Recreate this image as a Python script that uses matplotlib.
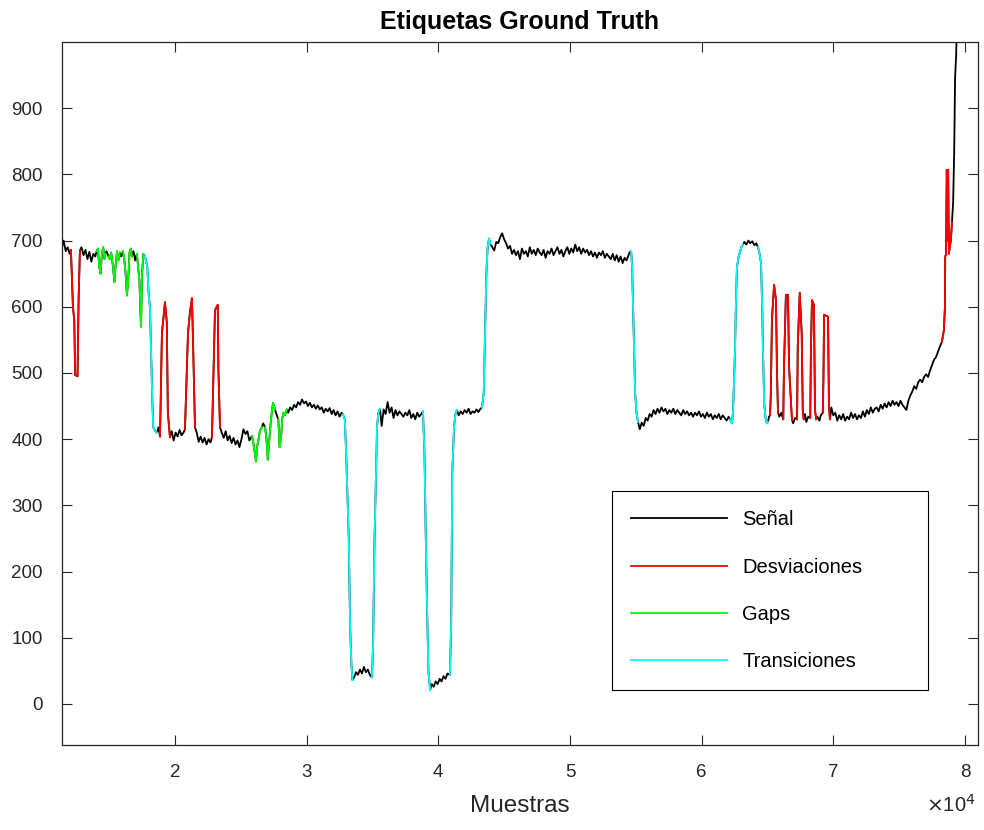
import numpy as np
import matplotlib.pyplot as plt

muestras = [
    11400, 11550, 11700, 11850, 12000, 12100,
    12250, 12350, 12420, 12600, 12680, 12780,
    12900, 13050, 13200, 13350, 13500, 13650, 13800, 13950, 14050,
    14150, 14250, 14350, 14450, 14550, 14650, 14700,
    14800, 14950,
    15050, 15150, 15300, 15400, 15480, 15600, 15700, 15820,
    15920, 16050,
    16150, 16250, 16350, 16450, 16550, 16650, 16730,
    16850, 16980, 17110,
    17200, 17300, 17420, 17500, 17600, 17720,
    17800, 17900, 18000, 18100, 18200, 18280, 18350, 18500, 18630,
    18750, 18860,
    18900, 19010, 19240, 19380, 19460, 19620,
    19750, 19900, 20050, 20200, 20350, 20500, 20650, 20760,
    20990, 21140, 21290, 21370, 21520,
    21650, 21800, 21950, 22100, 22250, 22400, 22550, 22700, 22810,
    22900, 23040, 23250, 23300, 23420,
    23550, 23700, 23850, 24000, 24150, 24300, 24450, 24600, 24750, 24900,
    25050, 25200, 25350, 25500, 25650, 25850,
    25950, 26050, 26150, 26250, 26350, 26450, 26600,
    26700, 26850,
    26950, 27050, 27150, 27250, 27350, 27450, 27600,
    27700, 27850,
    27950, 28050, 28150, 28250, 28350, 28500,
    28600, 28750, 28900, 29050, 29200, 29350, 29500, 29650, 29800, 29950,
    30100, 30250, 30400, 30550, 30700, 30850, 31000, 31150, 31300, 31450,
    31600, 31750, 31900, 32050, 32200, 32350, 32500, 32650, 32750,
    32900, 33000, 33100, 33200, 33300, 33400, 33480,
    33600, 33750, 33900, 34050, 34200, 34350, 34500, 34650, 34800, 34960,
    35050, 35150, 35250, 35350, 35450, 35570,
    35700, 35850, 36000, 36150, 36300, 36450, 36600, 36750, 36900, 37050,
    37200, 37350, 37500, 37650, 37800, 37950, 38100, 38250, 38400, 38550,
    38700, 38835,
    38950, 39050, 39150, 39250, 39380,
    39500, 39650, 39800, 39950, 40100, 40250, 40400, 40550, 40700, 40880,
    40980, 41060, 41200, 41300, 41420,
    41550, 41700, 41850, 42000, 42150, 42300, 42450, 42600, 42750, 42900,
    43050, 43200, 43320,
    43450, 43550, 43650, 43750, 43850, 43950,
    44100, 44250, 44400, 44550, 44700, 44850, 45000, 45150, 45300, 45450,
    45600, 45750, 45900, 46050, 46200, 46350, 46500, 46650, 46800, 46950,
    47100, 47250, 47400, 47550, 47700, 47850, 48000, 48150, 48300, 48450,
    48600, 48750, 48900, 49050, 49200, 49350, 49500, 49650, 49800, 49950,
    50100, 50250, 50400, 50550, 50700, 50850, 51000, 51150, 51300, 51450,
    51600, 51750, 51900, 52050, 52200, 52350, 52500, 52650, 52800, 52950,
    53100, 53250, 53400, 53550, 53700, 53850, 54000, 54150, 54300, 54450,
    54560,
    54650, 54720, 54790, 54850, 54950, 55050, 55170,
    55300, 55450, 55600, 55750, 55900, 56050, 56200, 56350, 56500, 56650,
    56800, 56950, 57100, 57250, 57400, 57550, 57700, 57850, 58000, 58150,
    58300, 58450, 58600, 58750, 58900, 59050, 59200, 59350, 59500, 59650,
    59800, 59950, 60100, 60250, 60400, 60550, 60700, 60850, 61000, 61150,
    61300, 61450, 61600, 61750, 61900, 62050, 62150,
    62300, 62380, 62450, 62530, 62600, 62680, 62800, 62910, 63020, 63140,
    63250, 63400, 63550, 63700, 63850, 64000, 64150, 64280,
    64400, 64510, 64600, 64640, 64750, 64850, 64950, 65040,
    65120, 65190,
    65250, 65340, 65500, 65650, 65720, 65800,
    65900, 66050, 66200,
    66250, 66400, 66560, 66640, 66860,
    66950, 67100, 67250,
    67300, 67450, 67600, 67680, 67750,
    67850, 67950, 68100, 68250,
    68300, 68380, 68530, 68610, 68700,
    68800, 68950, 69050, 69200,
    69250, 69300, 69600, 69670, 69750,
    69850, 70000, 70150, 70300, 70450, 70600, 70750, 70900, 71050, 71200,
    71350, 71500, 71650, 71800, 71950, 72100, 72250, 72400, 72550, 72700,
    72850, 73000, 73150, 73300, 73450, 73600, 73750, 73900, 74050, 74200,
    74350, 74500, 74650, 74800, 74950, 75100, 75250, 75400, 75550, 75700,
    75850, 76000, 76150, 76300, 76450, 76600, 76750, 76900, 77050, 77200,
    77350, 77500, 77650, 77800, 77950, 78100, 78250,
    78400, 78480, 78500, 78560, 78620, 78680, 78720, 78780, 78860, 78930, 79013,
    79100, 79180, 79250, 79330, 79400,
]

senal = [
    688, 700, 684, 690, 680, 686,
    600, 580, 497, 495, 610, 685,
    690, 678, 686, 672, 683, 668, 680, 676, 684,
    688, 660, 650, 680, 690, 672, 680,
    684, 676,
    672, 682, 660, 637, 660, 684, 670, 682,
    676, 684,
    672, 650, 617, 640, 682, 688, 676,
    684, 670, 680,
    660, 640, 570, 650, 680, 676,
    670, 660, 620, 600, 520, 459, 418, 412, 410,
    418, 404,
    440, 560, 607, 577, 440, 403,
    412, 398, 410, 404, 414, 406, 410, 415,
    560, 592, 613, 550, 418,
    410, 396, 404, 395, 402, 392, 400, 395, 403,
    477, 595, 603, 505, 418,
    410, 402, 412, 398, 405, 394, 402, 392, 398, 388,
    400, 415, 408, 412, 398, 405,
    395, 380, 366, 390, 400, 412, 418,
    424, 418,
    400, 369, 395, 420, 440, 455, 445,
    438, 430,
    388, 400, 432, 440, 436, 445,
    440, 448, 444, 452, 448, 456, 452, 460, 454, 457,
    450, 455, 448, 452, 446, 451, 445, 448, 440, 446,
    442, 447, 438, 444, 436, 442, 434, 440, 438,
    430, 380, 313, 250, 120, 60, 36,
    40, 48, 44, 52, 46, 56, 48, 52, 44, 40,
    90, 243, 330, 420, 440, 446,
    420, 445, 438, 456, 440, 448, 432, 444, 436, 442,
    438, 434, 440, 436, 444, 432, 438, 430, 440, 434,
    438, 442,
    379, 250, 142, 50, 21,
    30, 26, 34, 30, 38, 34, 42, 38, 46, 44,
    122, 349, 420, 438, 444,
    436, 442, 438, 444, 440, 446, 438, 442, 440, 445,
    441, 446, 448,
    470, 560, 650, 690, 703, 695,
    690, 685, 698, 696, 705, 711, 702, 696, 688, 692,
    680, 686, 678, 684, 672, 688, 680, 684, 676, 690,
    680, 686, 678, 688, 682, 678, 686, 674, 684, 680,
    688, 678, 684, 690, 680, 686, 676, 684, 690, 680,
    688, 682, 694, 684, 690, 680, 688, 682, 686, 678,
    684, 676, 682, 674, 682, 678, 684, 674, 680, 676,
    672, 680, 670, 678, 668, 676, 666, 674, 670, 678,
    684,
    683, 660, 600, 550, 470, 440, 426,
    415, 425, 420, 432, 428, 438, 434, 444, 438, 446,
    440, 448, 442, 446, 438, 444, 440, 446, 438, 444,
    440, 436, 444, 438, 442, 436, 440, 434, 440, 436,
    442, 434, 438, 432, 440, 434, 438, 430, 436, 432,
    438, 430, 436, 432, 428, 434, 430,
    424, 440, 480, 530, 600, 659, 675, 683, 690, 694,
    698, 694, 700, 696, 699, 693, 696, 690,
    680, 666, 600, 554, 455, 432, 424, 426,
    434, 436,
    464, 580, 633, 610, 505, 440,
    434, 440, 430,
    505, 618, 618, 509, 429,
    424, 432, 430,
    539, 621, 560, 444, 430,
    438, 426, 434, 432,
    535, 610, 603, 444, 430,
    434, 428, 436, 440,
    489, 588, 585, 449, 430,
    448, 436, 440, 428, 436, 430, 438, 428, 434, 430,
    440, 432, 438, 430, 436, 432, 442, 434, 444, 438,
    448, 440, 446, 448, 442, 452, 446, 454, 448, 456,
    450, 458, 452, 456, 450, 458, 452, 448, 444, 458,
    466, 472, 480, 476, 486, 490, 486, 494, 498, 494,
    504, 512, 520, 524, 532, 540, 547,
    565, 600, 675, 680, 807, 700, 807, 680, 693, 700, 728,
    757, 832, 946, 980, 1040,
]

# tramos etiquetados (inicio, fin) en muestras
desviaciones = [(12100, 12780), (18860, 19620), (20760, 21520), (22810, 23420),
                (65190, 65800), (66200, 66860), (67250, 67750), (68250, 68700),
                (69200, 69750), (78250, 79013)]
gaps = [(14050, 14700), (14950, 15820), (16050, 16730), (17110, 17720),
        (25850, 26600), (26850, 27600), (27850, 28500)]
transiciones = [(17720, 18630), (32750, 33480), (34960, 35570), (38835, 39380),
                (40880, 41420), (43320, 43950), (54560, 55170), (62150, 63140),
                (64280, 65040)]

x = np.array(muestras, dtype=float)
y = np.array(senal, dtype=float)


def por_tramos(tramos):
    ys = np.full_like(y, np.nan)
    for a, b in tramos:
        m = (x >= a) & (x <= b)
        ys[m] = y[m]
    return ys


plt.rcParams['font.family'] = ['Liberation Sans', 'DejaVu Sans']
gris = '#262626'

fig = plt.figure(figsize=(9.84, 8.3), dpi=100)
ax = fig.add_axes([0.063, 0.1024, 0.9309, 0.847])

ax.plot(x, y, color='k', lw=1.3, label='Señal')
ax.plot(x, por_tramos(desviaciones), color=(1, 0, 0), lw=1.3, label='Desviaciones')
ax.plot(x, por_tramos(gaps), color=(0, 1, 0), lw=1.3, label='Gaps')
ax.plot(x, por_tramos(transiciones), color=(0, 1, 1), lw=1.3, label='Transiciones')

ax.set_xlim(11420, 80990)
ax.set_ylim(-62, 1000)
ax.set_xticks(np.arange(20000, 80001, 10000))
ax.set_xticklabels([str(v) for v in range(2, 9)])
ax.set_yticks(np.arange(0, 901, 100))

ax.tick_params(direction='in', length=7, width=0.8, top=True, right=True,
               colors=gris, labelsize=13.5, pad=14)
for s in ax.spines.values():
    s.set_color(gris)
    s.set_linewidth(0.9)

ax.set_title('Etiquetas Ground Truth', fontsize=18, fontweight='bold', pad=9)
ax.set_xlabel('Muestras', fontsize=17.5, color=gris, labelpad=10)
ax.text(0.997, -0.085, r'$\times$10$^{4}$', transform=ax.transAxes,
        ha='right', va='center', fontsize=14.5, color=gris)

leg = ax.legend(loc='lower left', bbox_to_anchor=(0.600, 0.078, 0.345, 0.286),
                mode='expand', borderaxespad=0, fontsize=14.5, handlelength=4.8,
                handletextpad=0.75, labelspacing=1.4, borderpad=0.95,
                fancybox=False, framealpha=1, edgecolor='k')
leg.get_frame().set_linewidth(0.8)

fig.savefig('out.png', dpi=100)
